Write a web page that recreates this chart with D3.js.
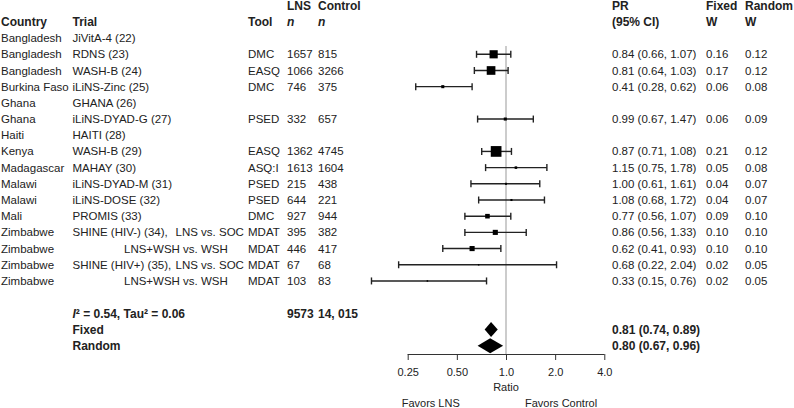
<!DOCTYPE html>
<html><head><meta charset="utf-8">
<script src="https://cdn.jsdelivr.net/npm/d3@7/dist/d3.min.js"></script>
<style>
body{margin:0;background:#fff;}
svg{display:block;font-family:"Liberation Sans",Arial,sans-serif;}
</style></head>
<body><svg id="c" width="794" height="408"></svg>
<script>
const countries = ["Bangladesh","Bangladesh","Bangladesh","Burkina Faso","Ghana","Ghana","Haiti","Kenya","Madagascar","Malawi","Malawi","Mali","Zimbabwe","Zimbabwe","Zimbabwe","Zimbabwe"];
const trials = ["JiVitA-4 (22)","RDNS (23)","WASH-B (24)","iLiNS-Zinc (25)","GHANA (26)","iLiNS-DYAD-G (27)","HAITI (28)","WASH-B (29)","MAHAY (30)","iLiNS-DYAD-M (31)","iLiNS-DOSE (32)","PROMIS (33)","SHINE (HIV-) (34),","","SHINE (HIV+) (35),",""];
const comparisons = ["","","","","","","","","","","","","LNS vs. SOC","LNS+WSH vs. WSH","LNS vs. SOC","LNS+WSH vs. WSH"];
const tools = ["","DMC","EASQ","DMC","","PSED","","EASQ","ASQ:I","PSED","PSED","DMC","MDAT","MDAT","MDAT","MDAT"];
const lnsN = [null,1657,1066,746,null,332,null,1362,1613,215,644,927,395,446,67,103];
const ctrlN = [null,815,3266,375,null,657,null,4745,1604,438,221,944,382,417,68,83];
const pr = [null,0.84,0.81,0.41,null,0.99,null,0.87,1.15,1.00,1.08,0.77,0.86,0.62,0.68,0.33];
const lower = [null,0.66,0.64,0.28,null,0.67,null,0.71,0.75,0.61,0.68,0.56,0.56,0.41,0.22,0.15];
const upper = [null,1.07,1.03,0.62,null,1.47,null,1.08,1.78,1.61,1.72,1.07,1.33,0.93,2.04,0.76];
const wFixed = [null,0.16,0.17,0.06,null,0.06,null,0.21,0.05,0.04,0.04,0.09,0.10,0.10,0.02,0.02];
const wRandom = [null,0.12,0.12,0.08,null,0.09,null,0.12,0.08,0.07,0.07,0.10,0.10,0.10,0.05,0.05];
const summaryLabels = ["Fixed","Random"];
const summaryPR = [0.81,0.80];
const summaryLower = [0.74,0.67];
const summaryUpper = [0.89,0.96];
const totalLNS = "9573";
const totalCtrl = "14, 015";
const axisTicks = [0.25,0.5,1,2,4];
const axisTickLabels = ["0.25","0.50","1.0","2.0","4.0"];

const svg = d3.select("#c");
const rowY0 = 38.1, rowH = 16.19;
const yRow = i => rowY0 + rowH*i;
const x = d3.scaleLog().base(2).domain([0.25,4]).range([407.7,604.3]);
const FS = 11.5;
const colX = {country:1, trial:72.5, tool:248, lns:287, ctrl:318, pr:612, wf:706, wr:745};

function txt(xp, yp, s, opts={}) {
  const t = svg.append("text").attr("x", xp).attr("y", yp).attr("dy","0.35em")
    .attr("font-size", opts.fs||FS).attr("fill","#222").text(s);
  if (opts.bold) t.attr("font-weight","bold");
  if (opts.italic) t.attr("font-style","italic");
  if (opts.anchor) t.attr("text-anchor", opts.anchor);
  return t;
}

// headers
const hb = {bold:true, fs:12};
txt(colX.lns, yRow(-2), "LNS", hb);
txt(colX.ctrl, yRow(-2), "Control", hb);
txt(colX.country, yRow(-1), "Country", hb);
txt(colX.trial, yRow(-1), "Trial", hb);
txt(colX.tool, yRow(-1), "Tool", hb);
txt(colX.lns, yRow(-1), "n", {bold:true, italic:true, fs:12});
txt(colX.ctrl, yRow(-1), "n", {bold:true, italic:true, fs:12});
txt(colX.pr, yRow(-2), "PR", hb);
txt(colX.pr, yRow(-1), "(95% CI)", hb);
txt(colX.wf, yRow(-2), "Fixed", hb);
txt(colX.wf, yRow(-1), "W", hb);
txt(colX.wr, yRow(-2), "Random", hb);
txt(colX.wr, yRow(-1), "W", hb);

const f2 = d3.format(".2f");
countries.forEach((c,i) => {
  const y = yRow(i);
  txt(colX.country, y, c);
  if (trials[i]) txt(colX.trial, y, trials[i]);
  if (comparisons[i]) txt(comparisons[i].startsWith("LNS vs") ? 175.5 : 124, y, comparisons[i]);
  if (tools[i]) txt(colX.tool, y, tools[i]);
  if (lnsN[i] != null) txt(colX.lns, y, lnsN[i]);
  if (ctrlN[i] != null) txt(colX.ctrl, y, ctrlN[i]);
  if (pr[i] != null) {
    txt(colX.pr, y, `${f2(pr[i])} (${f2(lower[i])}, ${f2(upper[i])})`);
    txt(colX.wf, y, f2(wFixed[i]));
    txt(colX.wr, y, f2(wRandom[i]));
  }
});

// heterogeneity + totals
const het = txt(colX.trial, yRow(17), "", {bold:true, fs:12});
het.append("tspan").attr("font-style","italic").text("I");
het.append("tspan").text("² = 0.54, Tau² = 0.06");
txt(colX.lns, yRow(17), totalLNS, {bold:true, fs:12});
txt(colX.ctrl, yRow(17), totalCtrl, {bold:true, fs:12});
summaryLabels.forEach((s,k) => {
  const y = yRow(18+k);
  txt(colX.trial, y, s, {bold:true, fs:12});
  txt(colX.pr, y, `${f2(summaryPR[k])} (${f2(summaryLower[k])}, ${f2(summaryUpper[k])})`, {bold:true, fs:12});
});

// reference line
const axisY = 354;
svg.append("line").attr("x1", x(1)).attr("x2", x(1)).attr("y1", 46).attr("y2", axisY)
  .attr("stroke","#aaa").attr("stroke-width",1.2);

// CIs
const g = svg.append("g");
pr.forEach((p,i) => {
  if (p == null) return;
  const y = yRow(i);
  g.append("line").attr("x1", x(lower[i])).attr("x2", x(upper[i])).attr("y1", y).attr("y2", y)
    .attr("stroke","#222").attr("stroke-width",1.4);
  [lower[i], upper[i]].forEach(v => g.append("line").attr("x1", x(v)).attr("x2", x(v))
    .attr("y1", y-3.5).attr("y2", y+3.5).attr("stroke","#222").attr("stroke-width",1.4));
  const s = Math.max(wFixed[i]*51, 1.5);
  g.append("rect").attr("x", x(p)-s/2).attr("y", y-s/2).attr("width", s).attr("height", s).attr("fill","#000");
});

// diamonds
summaryPR.forEach((p,k) => {
  const y = yRow(18+k);
  const h = 7.5;
  g.append("path").attr("d", `M${x(summaryLower[k])},${y} L${x(p)},${y-h} L${x(summaryUpper[k])},${y} L${x(p)},${y+h} Z`)
    .attr("fill","#000");
});

// axis
const axis = d3.axisBottom(x).tickValues(axisTicks).tickFormat((d,i) => axisTickLabels[i]).tickSize(6).tickPadding(8);
const ag = svg.append("g").attr("transform", `translate(0,${axisY})`).call(axis);
ag.select(".domain").attr("stroke","#333").attr("d", `M${x(0.25)},0.5H${x(4)}`);
ag.selectAll(".tick line").attr("stroke","#333");
ag.selectAll(".tick text").attr("font-size",11).attr("fill","#222").attr("font-family","Liberation Sans, Arial, sans-serif");
txt(x(1), 387, "Ratio", {anchor:"middle", fs:11});
txt(401.7, 403, "Favors LNS", {fs:11});
txt(525, 403, "Favors Control", {fs:11});
</script></body></html>
